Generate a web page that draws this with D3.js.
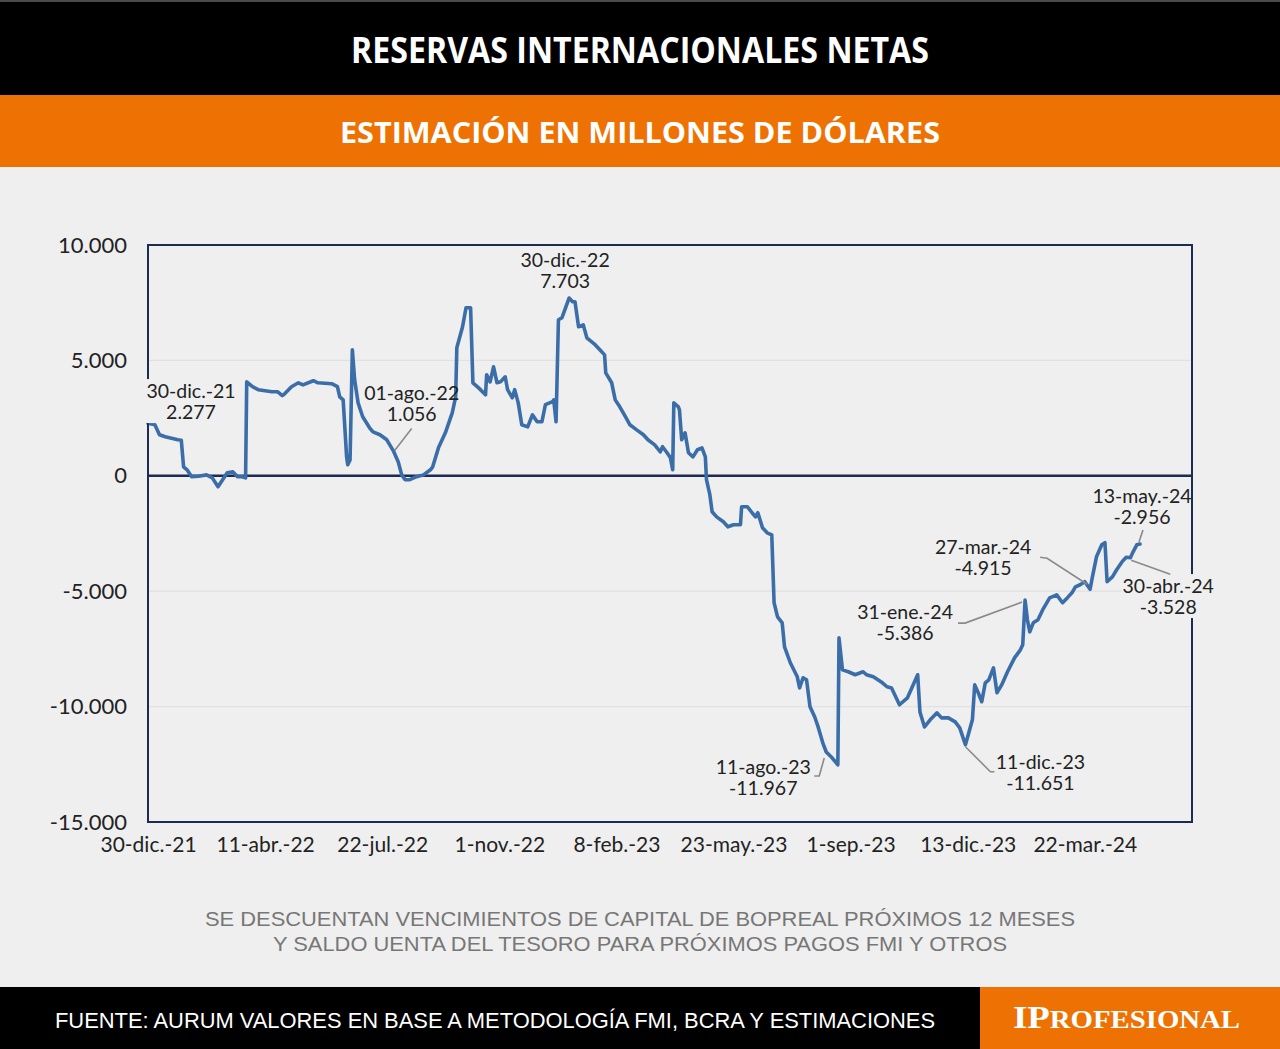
<!DOCTYPE html>
<html><head><meta charset="utf-8">
<script src="https://cdn.jsdelivr.net/npm/d3@7"></script>
<style>html,body{margin:0;padding:0;background:#efefef;}svg{display:block}</style>
</head><body>
<svg id="chart" width="1280" height="1049"></svg>
<script>
// ---------------- DATA ----------------
const dates = ["2021-12-30","2022-01-05","2022-01-09","2022-01-14","2022-01-25","2022-01-28","2022-01-30","2022-02-02","2022-02-06","2022-02-12","2022-02-19","2022-02-24","2022-03-01","2022-03-05","2022-03-09","2022-03-14","2022-03-18","2022-03-22","2022-03-25","2022-03-26","2022-03-31","2022-04-05","2022-04-17","2022-04-22","2022-04-26","2022-04-28","2022-05-04","2022-05-10","2022-05-14","2022-05-23","2022-05-27","2022-06-08","2022-06-13","2022-06-15","2022-06-18","2022-06-21","2022-06-22","2022-06-24","2022-06-26","2022-06-28","2022-07-01","2022-07-05","2022-07-11","2022-07-14","2022-07-20","2022-07-26","2022-08-01","2022-08-05","2022-08-08","2022-08-11","2022-08-15","2022-08-21","2022-08-27","2022-09-02","2022-09-04","2022-09-09","2022-09-15","2022-09-21","2022-09-24","2022-09-25","2022-09-30","2022-10-03","2022-10-07","2022-10-09","2022-10-14","2022-10-20","2022-10-21","2022-10-24","2022-10-27","2022-10-30","2022-11-02","2022-11-06","2022-11-08","2022-11-12","2022-11-14","2022-11-17","2022-11-20","2022-11-25","2022-11-29","2022-12-03","2022-12-07","2022-12-10","2022-12-16","2022-12-17","2022-12-19","2022-12-21","2022-12-24","2022-12-27","2022-12-30","2023-01-02","2023-01-04","2023-01-07","2023-01-11","2023-01-14","2023-01-21","2023-01-25","2023-01-29","2023-01-30","2023-02-04","2023-02-07","2023-02-11","2023-02-16","2023-02-20","2023-02-26","2023-03-04","2023-03-08","2023-03-14","2023-03-19","2023-03-21","2023-03-25","2023-03-28","2023-03-30","2023-03-31","2023-04-04","2023-04-05","2023-04-07","2023-04-10","2023-04-13","2023-04-17","2023-04-21","2023-04-25","2023-04-28","2023-04-29","2023-05-02","2023-05-04","2023-05-08","2023-05-14","2023-05-18","2023-05-23","2023-05-29","2023-05-30","2023-06-04","2023-06-08","2023-06-11","2023-06-13","2023-06-17","2023-06-21","2023-06-25","2023-06-27","2023-06-30","2023-07-04","2023-07-06","2023-07-11","2023-07-17","2023-07-19","2023-07-22","2023-07-25","2023-07-28","2023-08-01","2023-08-04","2023-08-08","2023-08-11","2023-08-16","2023-08-21","2023-08-22","2023-08-25","2023-08-30","2023-09-05","2023-09-12","2023-09-15","2023-09-21","2023-09-29","2023-10-03","2023-10-07","2023-10-14","2023-10-21","2023-10-26","2023-10-30","2023-11-01","2023-11-05","2023-11-10","2023-11-16","2023-11-20","2023-11-26","2023-12-02","2023-12-06","2023-12-11","2023-12-13","2023-12-17","2023-12-19","2023-12-22","2023-12-25","2023-12-28","2023-12-31","2024-01-04","2024-01-07","2024-01-11","2024-01-16","2024-01-22","2024-01-27","2024-01-29","2024-01-31","2024-02-02","2024-02-04","2024-02-07","2024-02-11","2024-02-15","2024-02-21","2024-02-27","2024-03-03","2024-03-07","2024-03-11","2024-03-14","2024-03-18","2024-03-22","2024-03-27","2024-03-29","2024-04-02","2024-04-07","2024-04-10","2024-04-12","2024-04-17","2024-04-21","2024-04-26","2024-04-30","2024-05-04","2024-05-06","2024-05-10","2024-05-13"];
const reserves = [2277,2210,1780,1690,1560,1540,390,260,-40,-20,40,-90,-470,-170,130,170,-40,-40,-90,4070,3860,3730,3640,3640,3470,3550,3860,4030,3940,4120,4030,3990,3860,3420,3290,820,480,690,5460,4160,3160,2560,2080,1900,1780,1560,1056,600,40,-170,-170,-40,40,260,390,1210,1860,2730,3420,5550,6460,7280,7280,4030,3810,3510,4380,4070,4720,4030,4070,4290,3730,3380,3730,3160,2210,2120,2640,2340,2340,3080,3210,3290,2340,6760,6850,7280,7703,7540,7540,6460,6540,5980,5680,5460,5240,4460,4030,3290,2990,2560,2210,1990,1780,1560,1340,1040,1260,1000,780,260,3160,2990,2860,1560,1860,1000,820,1130,1210,820,-170,-820,-1560,-1780,-1990,-2210,-2120,-2120,-1340,-1340,-1600,-1780,-1600,-2250,-2470,-2560,-5500,-6110,-6370,-7410,-8100,-8710,-9190,-8750,-8840,-10010,-10440,-10880,-11570,-11967,-12220,-12520,-7020,-8410,-8490,-8620,-8490,-8620,-8710,-8970,-9140,-9190,-9920,-9620,-9060,-8620,-10230,-10880,-10570,-10270,-10490,-10490,-10660,-10920,-11651,-11310,-10570,-9060,-9400,-9790,-8970,-8840,-8320,-9400,-9060,-8490,-7890,-7540,-7320,-5386,-6240,-6760,-6370,-6240,-5810,-5290,-5160,-5500,-5290,-5070,-4810,-4720,-4590,-4915,-4420,-3510,-2990,-2900,-4590,-4380,-4070,-3730,-3528,-3550,-3340,-2990,-2956];

const yTickValues = [10000, 5000, 0, -5000, -10000, -15000];
const gridValues = [5000, -5000, -10000];
const xTickDates = ["2021-12-30","2022-04-11","2022-07-22","2022-11-01","2023-02-08","2023-05-23","2023-09-01","2023-12-13","2024-03-22"];
const xTickLabels = ["30-dic.-21","11-abr.-22","22-jul.-22","1-nov.-22","8-feb.-23","23-may.-23","1-sep.-23","13-dic.-23","22-mar.-24"];

const annotDates  = ["2021-12-30","2022-08-01","2022-12-30","2023-08-11","2023-12-11","2024-01-31","2024-03-27","2024-04-30","2024-05-13"];
const annotLabels = ["30-dic.-21","01-ago.-22","30-dic.-22","11-ago.-23","11-dic.-23","31-ene.-24","27-mar.-24","30-abr.-24","13-may.-24"];
const annotValues = [2277, 1056, 7703, -11967, -11651, -5386, -4915, -3528, -2956];

const titleText = "RESERVAS INTERNACIONALES NETAS";
const subtitleText = "ESTIMACIÓN EN MILLONES DE DÓLARES";
const noteLines = ["SE DESCUENTAN VENCIMIENTOS DE CAPITAL DE BOPREAL PRÓXIMOS 12 MESES","Y SALDO UENTA DEL TESORO PARA PRÓXIMOS PAGOS FMI Y OTROS"];
const sourceText = "FUENTE: AURUM VALORES EN BASE A METODOLOGÍA FMI, BCRA Y ESTIMACIONES";

// ---------------- LAYOUT ----------------
const W = 1280, H = 1049;
const plot = {left: 148, right: 1192, top: 245, bottom: 822};
const tickStep = 117.1;
const lastDataX = 1140;
const orange = "#ee7203";
const bg = "#efefef";
const lineBlue = "#3b6ea9";
const navy = "#1d2b50";
// label offsets relative to each annotated point: [dx, dy of first line center], leader polyline, halo
const annotLayout = [
  {dx: 43,  dy: -32, leader: null, halo: true},
  {dx: 18,  dy: -58, leader: [[18,-23],[1,-1]]},
  {dx: -4,  dy: -38, leader: null},
  {dx: -63, dy: 15,  leader: [[-12,24],[-7,24],[-2,6]]},
  {dx: 75,  dy: 17,  leader: [[0,2],[25,27],[29,27]]},
  {dx: -120,dy: 12,  leader: [[-67,23],[-60,23],[-3,2]]},
  {dx: -107,dy: -42, leader: [[-50,-32],[-43,-31],[-3,-5]]},
  {dx: 42,  dy: 29,  leader: [[5,3],[44,17]], halo: true},
  {dx: 2,   dy: -48, leader: [[3,-14],[-1,-2]]}
];

// ---------------- SCALES ----------------
const parse = d3.timeParse("%Y-%m-%d");
const data = dates.map((d, i) => ({date: parse(d), value: reserves[i]}));
const tickDatesP = xTickDates.map(parse);
const xDomain = tickDatesP.concat([parse(dates[dates.length - 1])]);
const xRange = tickDatesP.map((d, i) => plot.left + i * tickStep).concat([lastDataX]);
const x = d3.scaleTime().domain(xDomain).range(xRange);
const y = d3.scaleLinear().domain([-15000, 10000]).range([plot.bottom, plot.top]);

const loc = d3.formatLocale({decimal: ",", thousands: ".", grouping: [3], currency: ["$", ""], minus: "-"});
const fmt = loc.format(",d");

const svg = d3.select("#chart");
const FONT = "Lato, 'Noto Sans', sans-serif";

// background bands
svg.append("rect").attr("x",0).attr("y",0).attr("width",W).attr("height",H).attr("fill",bg);
svg.append("rect").attr("x",0).attr("y",0).attr("width",W).attr("height",95).attr("fill","#000");
svg.append("rect").attr("x",0).attr("y",0).attr("width",W).attr("height",2).attr("fill","#4a4a4a");
svg.append("rect").attr("x",0).attr("y",95).attr("width",W).attr("height",72).attr("fill",orange);
svg.append("rect").attr("x",0).attr("y",987).attr("width",W).attr("height",62).attr("fill","#000");
svg.append("rect").attr("x",980).attr("y",987).attr("width",300).attr("height",62).attr("fill",orange);

// titles
svg.append("text").attr("x",W/2).attr("y",63).attr("text-anchor","middle")
  .attr("font-family","'Open Sans', sans-serif").attr("font-weight",700).attr("font-size",35)
  .attr("fill","#fff").attr("textLength",578).attr("lengthAdjust","spacingAndGlyphs").text(titleText);
svg.append("text").attr("x",W/2).attr("y",143).attr("text-anchor","middle")
  .attr("font-family","'Open Sans', sans-serif").attr("font-weight",700).attr("font-size",28)
  .attr("fill","#fff").attr("textLength",600).attr("lengthAdjust","spacingAndGlyphs").text(subtitleText);

// gridlines
svg.append("g").selectAll("line").data(gridValues).join("line")
  .attr("x1",plot.left).attr("x2",plot.right)
  .attr("y1",d=>y(d)).attr("y2",d=>y(d))
  .attr("stroke","#e1e1e1").attr("stroke-width",1.2);

// axes
const yAxis = d3.axisLeft(y).tickValues(yTickValues).tickFormat(d => fmt(d)).tickSize(0).tickPadding(21);
const gy = svg.append("g").attr("transform",`translate(${plot.left},0)`).call(yAxis);
gy.select(".domain").remove();
gy.selectAll("text").attr("font-family",FONT).attr("font-size",22).attr("fill","#222");

const xAxis = d3.axisBottom(x).tickValues(tickDatesP).tickFormat((d,i) => xTickLabels[i]).tickSize(0).tickPadding(15);
const gx = svg.append("g").attr("transform",`translate(0,${plot.bottom})`).call(xAxis);
gx.select(".domain").remove();
gx.selectAll("text").attr("font-family",FONT).attr("font-size",21).attr("fill","#222");

// zero line
svg.append("line").attr("x1",plot.left).attr("x2",plot.right).attr("y1",y(0)).attr("y2",y(0))
  .attr("stroke",navy).attr("stroke-width",2.5);

// data line
const line = d3.line().x(d => x(d.date)).y(d => y(d.value));
svg.append("path").datum(data).attr("d",line).attr("fill","none")
  .attr("stroke",lineBlue).attr("stroke-width",3.6).attr("stroke-linejoin","round").attr("stroke-linecap","round");

// frame
svg.append("rect").attr("x",plot.left).attr("y",plot.top)
  .attr("width",plot.right-plot.left).attr("height",plot.bottom-plot.top)
  .attr("fill","none").attr("stroke",navy).attr("stroke-width",2);

// annotations
const ga = svg.append("g");
annotDates.forEach((d, i) => {
  const px = x(parse(d)), py = y(annotValues[i]);
  const L = annotLayout[i];
  const halo = ga.append("rect").attr("fill",bg);
  if (L.leader) {
    ga.append("polyline").attr("points", L.leader.map(p => [px+p[0], py+p[1]].join(",")).join(" "))
      .attr("fill","none").attr("stroke","#8a8a8a").attr("stroke-width",1.6);
  }
  const t = ga.append("text").attr("text-anchor","middle").attr("font-family",FONT).attr("font-size",19.5).attr("fill","#222");
  t.append("tspan").attr("x",px+L.dx).attr("y",py+L.dy).attr("dy","0.35em").text(annotLabels[i]);
  t.append("tspan").attr("x",px+L.dx).attr("y",py+L.dy+21).attr("dy","0.35em").text(fmt(annotValues[i]));
  if (L.halo) {
    const b = t.node().getBBox();
    halo.attr("x",b.x-1).attr("y",b.y).attr("width",b.width+2).attr("height",b.height);
  } else halo.remove();
});

// note lines
svg.append("text").attr("x",640).attr("y",926).attr("text-anchor","middle")
  .attr("font-family","'Liberation Sans', Arial, sans-serif").attr("font-size",21).attr("fill","#777")
  .attr("textLength",870).attr("lengthAdjust","spacingAndGlyphs").text(noteLines[0]);
svg.append("text").attr("x",640).attr("y",951).attr("text-anchor","middle")
  .attr("font-family","'Liberation Sans', Arial, sans-serif").attr("font-size",21).attr("fill","#777")
  .attr("textLength",734).attr("lengthAdjust","spacingAndGlyphs").text(noteLines[1]);

// footer
svg.append("text").attr("x",55).attr("y",1028)
  .attr("font-family","'Liberation Sans', Arial, sans-serif").attr("font-size",22).attr("fill","#fff")
  .attr("textLength",880).attr("lengthAdjust","spacingAndGlyphs").text(sourceText);
const brand = svg.append("text").attr("x",1013).attr("y",1028)
  .attr("font-family","'Liberation Serif', 'DejaVu Serif', serif").attr("font-weight",700).attr("fill","#fff")
  .attr("textLength",227).attr("lengthAdjust","spacingAndGlyphs");
brand.append("tspan").attr("font-size",32).text("IP");
brand.append("tspan").attr("font-size",25).text("ROFESIONAL");
</script>
</body></html>
